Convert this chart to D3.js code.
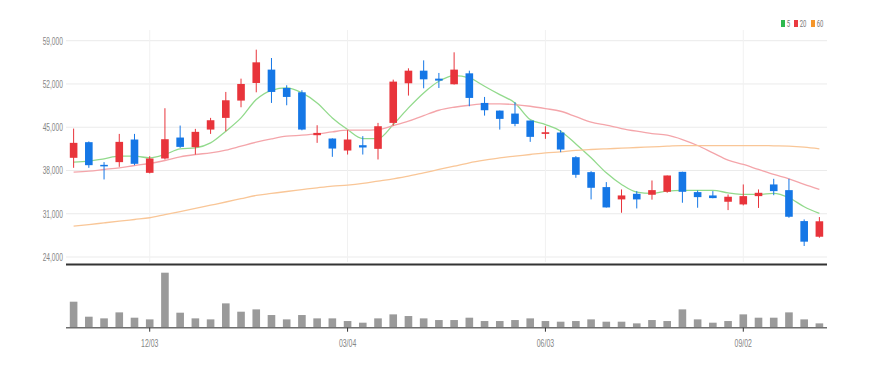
<!DOCTYPE html>
<html>
<head>
<meta charset="utf-8">
<script src="https://cdn.jsdelivr.net/npm/d3@7"></script>
<style>
  body { margin: 0; background: #fff; }
  svg { display: block; font-family: Roboto, sans-serif; }
</style>
</head>
<body>
<svg id="chart"></svg>
<script>
// weekly candles, 2018-10-29 .. 2019-10-07
const weeks = ['10/29','11/05','11/12','11/19','11/26','12/03','12/10','12/17','12/24','12/31',
  '01/07','01/14','01/21','01/28','02/04','02/11','02/18','02/25','03/04','03/11',
  '03/18','03/25','04/01','04/08','04/15','04/22','04/29','05/06','05/13','05/20',
  '05/27','06/03','06/10','06/17','06/24','07/01','07/08','07/15','07/22','07/29',
  '08/05','08/12','08/19','08/26','09/02','09/09','09/16','09/23','09/30','10/07']

const open = [40050,42580,38910,39350,43010,37620,39940,43330,41770,44620,
  46510,49310,52160,54320,51350,50650,43710,43170,41230,42090,
  41500,45700,52110,54150,52860,51950,53720,48930,47690,47210,
  46080,43920,44140,40150,37730,35310,33320,34230,34070,34550,
  37780,34500,33960,32940,32510,33850,35740,34820,29810,27280]
const high = [44780,42700,39350,43920,43920,40320,48070,45270,44730,46510,
  50710,52860,57550,56200,51790,50980,45320,43200,44520,43550,
  45700,52700,54530,55820,53780,57120,54150,49900,47700,49040,
  46100,45160,44520,40320,37890,36120,34930,34660,36380,37190,
  37800,34770,34660,34120,35740,34930,36650,36650,30080,30460]
const low = [38430,38430,36550,38590,38860,37520,39780,41660,40580,43920,
  44350,48230,50650,48930,48550,44500,42470,40210,40580,40580,
  39780,45270,50120,51300,51350,51900,48390,46880,44620,45160,
  42630,43120,40960,36820,33320,32000,31160,31860,33280,34400,
  32780,31970,33500,31590,32350,31940,34000,30350,25780,27120]
const close = [42470,38860,38700,42630,39080,39940,43060,41820,44250,46130,
  49360,52000,55500,50710,49900,44620,44080,41550,43010,41720,
  45160,52380,54150,52750,52540,54320,49740,47750,46350,45540,
  43440,44190,41390,37300,35200,32020,33960,33320,34820,37190,
  34550,33690,33530,33750,33850,34390,34660,30510,26480,29780]

const volume = [780,330,280,460,300,250,1650,450,280,250,
  730,480,550,380,250,380,280,280,200,150,
  280,400,350,280,230,230,300,200,200,230,
  280,200,180,200,250,180,180,130,230,200,
  550,250,150,200,400,300,300,460,250,130]

const ma5 = [39345,39507,39884,40315,40315,40046,40584,41499,41661,42469,
  44353,46507,49469,50977,51354,50546,48931,46507,44622,43169,
  43169,45430,48123,50546,52431,53346,52969,51623,50277,48931,
  46238,45430,44353,42300,40046,37623,35738,34499,34284,34661,
  34769,34769,34769,34392,34122,34122,34284,33584,32130,31053]
const ma20 = [37730,37892,38160,38430,38807,39130,39615,40207,40584,40853,
  41284,41930,42576,43115,43546,43707,43923,44246,44515,44515,
  44622,45269,45969,46884,47746,48230,48554,48769,48769,48661,
  48392,48015,47584,46700,45808,45323,44785,44354,43977,43708,
  43008,42038,40853,39669,38969,38161,37354,36653,35738,34930]
const ma60 = [29007,29250,29520,29790,30070,30353,30850,31350,31860,32380,
  32900,33430,33960,34280,34600,34900,35200,35468,35630,35899,
  36276,36653,37084,37622,38161,38700,39238,39669,40046,40315,
  40584,40853,41015,41250,41392,41500,41608,41715,41823,41931,
  42038,42038,42038,42038,42038,42038,41985,41931,41769,41500]

const priceTicks = [24000,31000,38000,45000,52000,59000]
const dateTicks = ['12/03','03/04','06/03','09/02']
const maNames = ['5','20','60']

const width = 869, height = 368
const left = 66, right = 827
const squeeze = 0.63
const upColor = '#e8343b', downColor = '#1577e6'
const maColors = ['#92da8c','#f4a5aa','#f9c697']
const legendColors = ['#2fb84f','#ea3a40','#f6962a']

const svg = d3.select('#chart').attr('width', width).attr('height', height)

// scales
const x = d3.scaleBand().domain(weeks).range([left, right]).paddingInner(0.5).paddingOuter(0.25)
const cx = d => x(d) + x.bandwidth() / 2
const y = d3.scaleLinear().domain([24000, 59000]).range([257, 40.7])
const yv = d3.scaleLinear().domain([0, d3.max(volume)]).range([327.7, 272.7])

// grid
svg.append('g')
    .selectAll('line')
    .data(priceTicks)
    .join('line')
        .attr('x1', left).attr('x2', right)
        .attr('y1', d => y(d)).attr('y2', d => y(d))
        .attr('stroke', '#ebebeb')
svg.append('g')
    .selectAll('line')
    .data(dateTicks)
    .join('line')
        .attr('x1', d => cx(d)).attr('x2', d => cx(d))
        .attr('y1', 30).attr('y2', 262)
        .attr('stroke', '#f1f1f1')

// y axis labels
const yAxis = svg.append('g')
    .attr('transform', `translate(${left},0)`)
    .call(d3.axisLeft(y).tickValues(priceTicks).tickFormat(d3.format(',')).tickSize(0).tickPadding(5))
yAxis.select('.domain').remove()
yAxis.selectAll('text')
    .attr('transform', `scale(${squeeze},1)`)
    .attr('fill', '#858585')
    .style('font-size', '10.5px')

// moving averages
const maSeries = [ma5, ma20, ma60]
const line = d3.line().x((d, i) => cx(weeks[i])).y(d => y(d)).curve(d3.curveMonotoneX)
svg.append('g')
    .selectAll('path')
    .data(maSeries)
    .join('path')
        .attr('d', line)
        .attr('fill', 'none')
        .attr('stroke', (d, i) => maColors[i])
        .attr('stroke-width', 1.3)

// candles
const candles = weeks.map((w, i) => ({ w, o: open[i], h: high[i], l: low[i], c: close[i] }))
const cg = svg.append('g')
    .selectAll('g')
    .data(candles)
    .join('g')
        .attr('fill', d => d.c >= d.o ? upColor : downColor)
        .attr('stroke', d => d.c >= d.o ? upColor : downColor)
cg.append('line')
    .attr('x1', d => cx(d.w)).attr('x2', d => cx(d.w))
    .attr('y1', d => y(d.h)).attr('y2', d => y(d.l))
    .attr('stroke-width', 1)
cg.append('rect')
    .attr('x', d => x(d.w))
    .attr('width', x.bandwidth())
    .attr('y', d => y(Math.max(d.o, d.c)))
    .attr('height', d => Math.max(1.5, Math.abs(y(d.o) - y(d.c))))
    .attr('stroke', 'none')

// panel divider
svg.append('line')
    .attr('x1', left).attr('x2', right)
    .attr('y1', 264.5).attr('y2', 264.5)
    .attr('stroke', '#333').attr('stroke-width', 2)

// volume
svg.append('g')
    .selectAll('rect')
    .data(volume)
    .join('rect')
        .attr('x', (d, i) => x(weeks[i]))
        .attr('width', x.bandwidth())
        .attr('y', d => yv(d))
        .attr('height', d => yv(0) - yv(d))
        .attr('fill', '#9a9a9a')
svg.append('line')
    .attr('x1', left).attr('x2', right)
    .attr('y1', yv(0)).attr('y2', yv(0))
    .attr('stroke', '#6f6f6f').attr('stroke-width', 1.5)

// x axis
const xAxis = svg.append('g')
    .attr('transform', `translate(0,${yv(0)})`)
    .call(d3.axisBottom(x).tickValues(dateTicks).tickSize(4).tickPadding(8))
xAxis.select('.domain').remove()
xAxis.selectAll('.tick line').attr('stroke', '#333')
xAxis.selectAll('text')
    .attr('transform', `scale(${squeeze},1)`)
    .attr('fill', '#858585')
    .style('font-size', '11px')

// legend
const legend = svg.append('g').attr('transform', 'translate(781,20)')
const items = legend.selectAll('g')
    .data(maNames)
    .join('g')
        .attr('transform', (d, i) => `translate(${[0, 13, 30][i]},0)`)
items.append('rect')
    .attr('width', 4).attr('height', 7)
    .attr('fill', (d, i) => legendColors[i])
items.append('text')
    .attr('x', 9).attr('y', 7)
    .attr('transform', `scale(${squeeze},1)`)
    .attr('fill', '#777')
    .style('font-size', '9.5px')
    .text(d => d)
</script>
</body>
</html>
